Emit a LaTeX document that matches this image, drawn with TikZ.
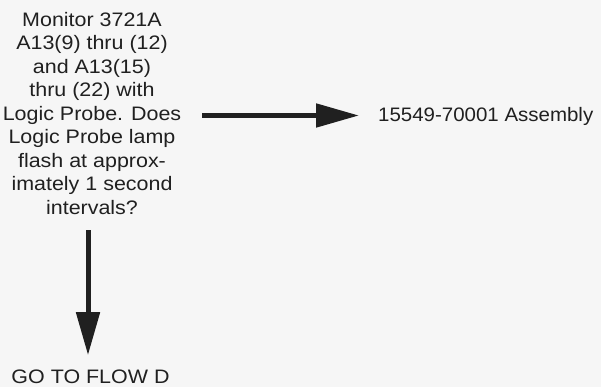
\documentclass[tikz,border=0pt]{standalone}
\usepackage{fontspec}
\setmainfont{Liberation Sans}[FakeStretch=1.1]
\newfontfamily\asmfont{Liberation Sans}[FakeStretch=1.05]
\usetikzlibrary{arrows.meta}
\definecolor{ink}{HTML}{202020}
\definecolor{paper}{HTML}{F6F6F6}
\tikzset{
  txt/.style={inner sep=0pt, text=ink, font=\fontsize{19.5}{23.5}\selectfont},
  bigarrow/.style={draw=ink, line width=5pt, -{Triangle[length=43pt,width=23pt]}}
}
\begin{document}
\begin{tikzpicture}[x=1pt,y=-1pt]
\fill[paper] (0,0) rectangle (601,387);
\useasboundingbox (0,0) rectangle (601,387);
\node[txt, align=center, anchor=north] (q) at (92,12)
  {Monitor 3721A\\A13(9) thru (12)\\and A13(15)\\thru (22) with\\Logic Probe. Does\\Logic Probe lamp\\flash at approx-\\imately 1 second\\intervals?};
\node[txt, anchor=base west, font=\asmfont\fontsize{19.5}{23.5}\selectfont] (a) at (378,122) {15549-70001 Assembly};
\node[txt, anchor=base] (g) at (90.5,383) {GO TO FLOW D};
\coordinate (hs) at (202,115.5);
\draw[bigarrow, shorten >=19pt] (hs) -- (hs -| a.west);
\coordinate (vs) at (88,230);
\draw[bigarrow, shorten >=14pt] (vs) -- (vs |- g.north);
\end{tikzpicture}
\end{document}
